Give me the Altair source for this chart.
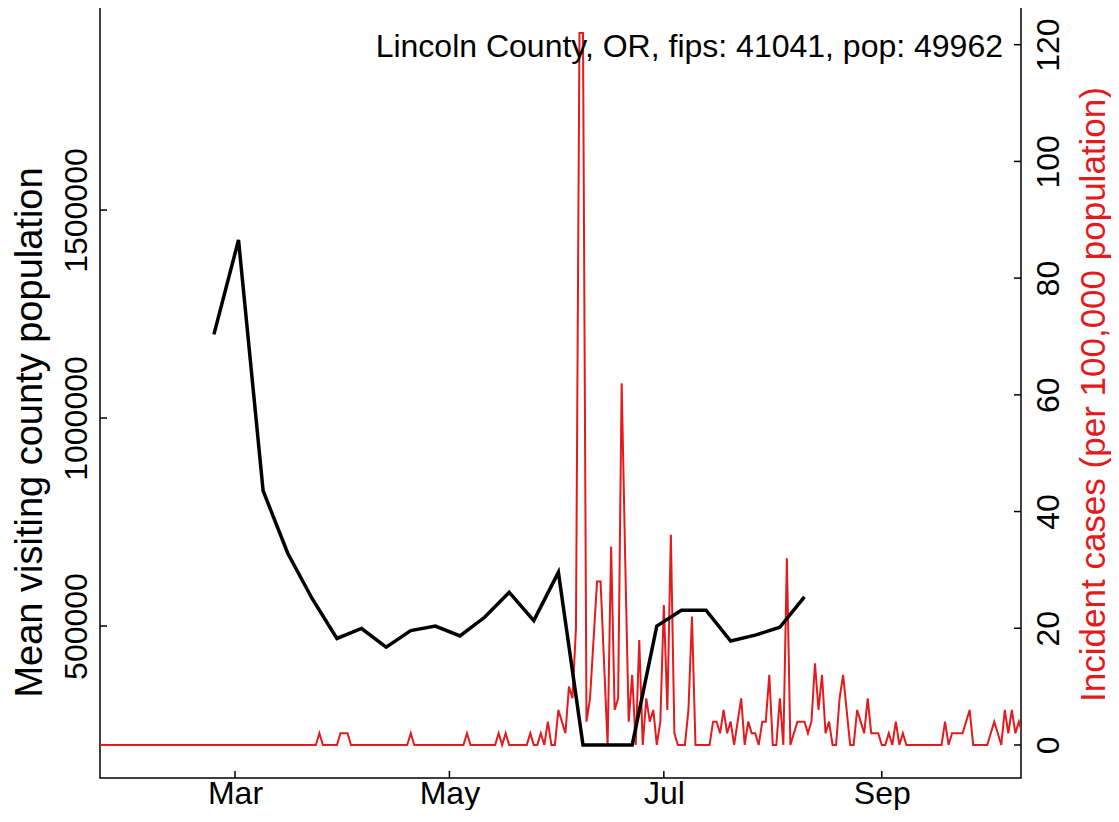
import altair as alt
import pandas as pd

# ---- data ----
visit_start = "2020-02-24"  # weekly points
visit_values = [1201000, 1428000, 825000, 675000, 565000, 470000, 494000, 449000,
                489000, 500000, 476000, 521000, 581000, 513000, 629000, 214000,
                214000, 214000, 500000, 538000, 538000, 464000, 478000, 497000, 570000]

case_start = "2020-01-22"  # daily incident cases per 100,000
cases_jan = [0, 0, 0, 0, 0, 0, 0, 0, 0, 0]
cases_feb = [0, 0, 0, 0, 0, 0, 0, 0, 0, 0, 0, 0, 0, 0, 0, 0, 0, 0, 0, 0,
             0, 0, 0, 0, 0, 0, 0, 0, 0]
cases_mar = [0, 0, 0, 0, 0, 0, 0, 0, 0, 0, 0, 0, 0, 0, 0, 0, 0, 0, 0, 0,
             0, 0, 0, 0, 2, 0, 0, 0, 0, 0, 2]
cases_apr = [2, 2, 0, 0, 0, 0, 0, 0, 0, 0, 0, 0, 0, 0, 0, 0, 0, 0, 0, 2,
             0, 0, 0, 0, 0, 0, 0, 0, 0, 0]
cases_may = [0, 0, 0, 0, 0, 2, 0, 0, 0, 0, 0, 0, 0, 0, 2, 0, 2, 0, 0, 0,
             0, 0, 0, 2, 0, 0, 2, 0, 4, 0, 0]
cases_jun = [6, 4, 2, 10, 8, 20, 122, 122, 4, 8, 18, 28, 28, 14, 0, 34, 6, 8, 62, 32,
             4, 12, 0, 18, 0, 8, 4, 6, 0, 4]
cases_jul = [24, 6, 36, 2, 0, 0, 0, 6, 22, 0, 0, 0, 0, 0, 4, 4, 2, 6, 2, 4,
             0, 4, 8, 0, 4, 2, 2, 0, 4, 4, 12]
cases_aug = [0, 0, 8, 0, 32, 0, 2, 4, 4, 4, 2, 4, 14, 6, 12, 2, 4, 0, 0, 8,
             12, 6, 0, 0, 6, 4, 2, 8, 2, 2, 2]
cases_sep = [0, 0, 2, 0, 4, 0, 2, 0, 0, 0, 0, 0, 0, 0, 0, 0, 0, 0, 4, 0,
             2, 2, 2, 2, 4, 6, 0, 0, 0, 0]
cases_oct = [0, 2, 4, 2, 0, 6, 2, 6, 2, 4, 2]

x_tick_dates = ["2020-03-01", "2020-05-01", "2020-07-01", "2020-09-01"]
left_ticks = [500000, 1000000, 1500000]
right_ticks = [0, 20, 40, 60, 80, 100, 120]
label_text = "Lincoln County, OR, fips: 41041, pop: 49962"
left_title = "Mean visiting county population"
right_title = "Incident cases (per 100,000 population)"

# ---- tables ----
visit_df = pd.DataFrame({
    "date": pd.date_range(visit_start, periods=len(visit_values), freq="7D").strftime("%Y-%m-%d"),
    "visitors": visit_values,
})
cases_all = cases_jan + cases_feb + cases_mar + cases_apr + cases_may + cases_jun + \
    cases_jul + cases_aug + cases_sep + cases_oct
case_df = pd.DataFrame({
    "date": pd.date_range(case_start, periods=len(cases_all), freq="D").strftime("%Y-%m-%d"),
    "cases": cases_all,
})
xt_df = pd.DataFrame({"date": x_tick_dates})
lt_df = pd.DataFrame({"v": left_ticks})
rt_df = pd.DataFrame({"v": right_ticks})
txt_df = pd.DataFrame({"t": [label_text]})

FONT = "Liberation Sans"
FS = 32
RED = "#E41A1C"
W, H = 921, 773

x_scale = alt.Scale(type="utc",
                    domain=[alt.DateTime(year=2020, month=1, date=22, hours=14, minutes=10, utc=True),
                            alt.DateTime(year=2020, month=10, date=10, hours=14, minutes=38, utc=True)])
x_axis = alt.Axis(values=[alt.DateTime(year=2020, month=m, date=1, utc=True) for m in (3, 5, 7, 9)],
                  labelExpr="utcFormat(datum.value, '%b')", ticks=False, tickSize=0, domain=False,
                  grid=False, labelFontSize=FS, labelFont=FONT, labelPadding=0,
                  labelColor="black", title=None)
x_enc = alt.X("date:T", scale=x_scale, axis=x_axis)

left_scale = alt.Scale(domain=[134600, 1992900], nice=False, zero=False)
right_scale = alt.Scale(domain=[-5.66, 126.8], nice=False, zero=False)

black = alt.Chart(visit_df).mark_line(color="black", strokeWidth=3.5, strokeJoin="miter").encode(
    x=x_enc,
    y=alt.Y("visitors:Q", scale=left_scale,
            axis=alt.Axis(orient="left", values=left_ticks, format="d", ticks=False, tickSize=0,
                          domain=False, grid=False, labelAngle=270, labelAlign="center",
                          labelBaseline="bottom", labelPadding=7, labelFontSize=FS,
                          labelFont=FONT, labelColor="black",
                          title=left_title, titleFont=FONT, titleFontSize=38,
                          titleFontWeight="normal", titleAngle=270, titleAlign="center",
                          titleBaseline="middle", titleX=-70, titleY=427, titleColor="black")),
)

red = alt.Chart(case_df).mark_line(color=RED, strokeWidth=2, clip=True).encode(
    x=x_enc,
    y=alt.Y("cases:Q", scale=right_scale,
            axis=alt.Axis(orient="right", values=right_ticks, format="d", ticks=False, tickSize=0,
                          domain=False, grid=False, labelAngle=270, labelAlign="center",
                          labelBaseline="top", labelPadding=12, labelFontSize=FS,
                          labelFont=FONT, labelColor="black",
                          title=right_title, titleFont=FONT, titleFontSize=35,
                          titleFontWeight="normal", titleAngle=270, titleAlign="center",
                          titleBaseline="middle", titleX=72, titleY=389, titleColor=RED)),
)

xt = alt.Chart(xt_df).mark_rule(color="black", strokeWidth=1.5).encode(
    x=x_enc, y=alt.value(H), y2=alt.value(H - 7))
lt = alt.Chart(lt_df).mark_rule(color="black", strokeWidth=1.5).encode(
    y=alt.Y("v:Q", scale=left_scale, axis=None), x=alt.value(0), x2=alt.value(7))
rt = alt.Chart(rt_df).mark_rule(color="black", strokeWidth=1.5).encode(
    y=alt.Y("v:Q", scale=right_scale, axis=None), x=alt.value(W), x2=alt.value(W - 7))

txt = alt.Chart(txt_df).mark_text(align="right", baseline="alphabetic", fontSize=FS,
                                  font=FONT, color="black").encode(
    x=alt.value(903), y=alt.value(52), text="t:N")

chart = alt.layer(red, black, xt, lt, rt, txt).resolve_scale(y="independent").properties(
    width=W, height=H,
    autosize=alt.AutoSizeParams(type="none"),
    padding={"left": 92, "top": -3, "right": 90, "bottom": 32},
).configure_view(stroke="black", strokeWidth=1.5)

chart.save("out.html", embed_options={"renderer": "svg", "actions": False})
